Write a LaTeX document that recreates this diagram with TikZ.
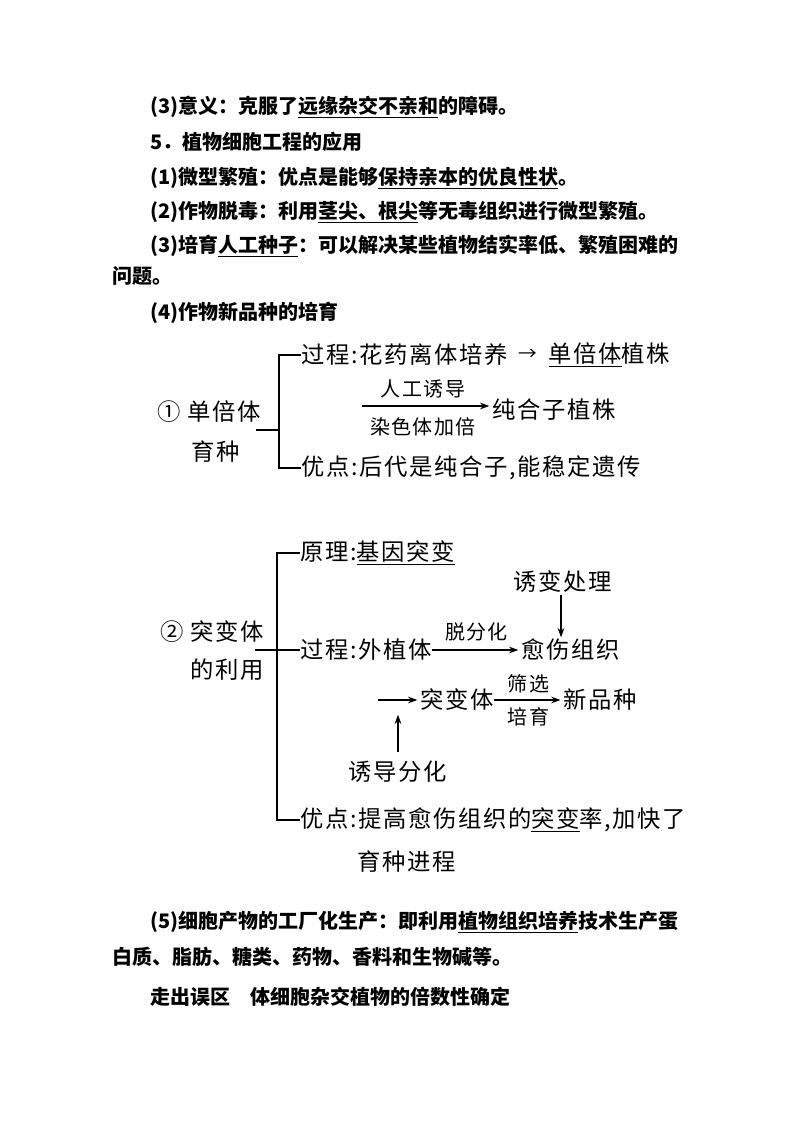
\documentclass[tikz,border=0pt]{standalone}
\usepackage{fontspec}
\setmainfont{Noto Sans CJK SC}
\newfontfamily\dgfont[LetterSpace=7]{Noto Sans CJK SC}
\usetikzlibrary{arrows.meta,positioning}
\begin{document}
\begin{tikzpicture}[x=0.75pt,y=-0.75pt,
  para/.style={anchor=west,inner sep=0pt,font=\fontsize{15}{18}\selectfont\bfseries},
  dg/.style={anchor=west,inner sep=0pt,font=\dgfont\fontsize{17.5}{20}\selectfont},
  dgc/.style={inner sep=0pt,font=\dgfont\fontsize{17.5}{20}\selectfont},
  lab/.style={inner sep=0pt,font=\dgfont\fontsize{15}{18}\selectfont},
  ln/.style={line width=0.8pt},
  ar/.style={line width=0.8pt,shorten >=2pt,-{Stealth[length=7pt,width=5pt]}}]
\useasboundingbox (0,0) rectangle (794,1123);
% paragraphs
\node[para] (p1) at (150,107) {(3)意义：克服了\underline{远缘杂交不亲和}的障碍。};
\node[para] (p2) at (150,142) {5．植物细胞工程的应用};
\node[para] (p3) at (150,178) {(1)微型繁殖：优点是能够\underline{保持亲本的优良性状}。};
\node[para] (p4) at (150,212) {(2)作物脱毒：利用\underline{茎尖、根尖}等无毒组织进行微型繁殖。};
\node[para] (p5) at (150,246) {(3)培育\underline{人工种子}：可以解决某些植物结实率低、繁殖困难的};
\node[para] (p6) at (112,276) {问题。};
\node[para] (p7) at (150,313) {(4)作物新品种的培育};
% diagram 1
\node[dg] (a0) at (157,412) {① 单倍体};
\node[dg] (a0b) at (191,452) {育种};
\coordinate (ab) at (256,430);
\coordinate (aj) at (279,430);
\node[dg] (a1) at (301,355) {过程:花药离体培养};
\node[dgc,anchor=west] (a1arr) at ([xshift=8pt]a1.east) {\fontsize{14}{14}\selectfont →};
\node[dg] (a1b) at ([xshift=8pt]a1arr.east) {\underline{单倍体}植株};
\coordinate (a2s) at (362,406);
\node[dg] (a2e) at (492,410) {纯合子植株};
\node[lab] (a2u) at (423,389) {人工诱导};
\node[lab] (a2d) at (423,427) {染色体加倍};
\node[dg] (a3) at (301,468) {优点:后代是纯合子,能稳定遗传};
\draw[ln] (ab) -- (aj);
\draw[ln] (a1.west) -| (aj) |- (a3.west);
\draw[ar] (a2s) -- (a2s -| a2e.west);
% diagram 2
\node[dg] (b0) at (160,632) {② 突变体};
\node[dg] (b0b) at (190,670) {的利用};
\coordinate (bb) at (255,650);
\coordinate (bj) at (277,650);
\node[dg] (b1) at (300,553) {原理:\underline{基因突变}};
\node[dg] (b2) at (300,650) {过程:外植体};
\node[dg] (b2e) at (521,650) {愈伤组织};
\node[dgc] (bt) at (563,582) {诱变处理};
\coordinate (b3s) at (378,700);
\node[dg] (b3a) at (420,700) {突变体};
\node[dg] (b3b) at ([xshift=52pt]b3a.east) {新品种};
\node[dgc] (bi) at (398,772) {诱导分化};
\coordinate (bt2) at (561,595);
\coordinate (bi2) at (398,752);
\node[dg] (b4) at (300,820) {优点:提高愈伤组织的\underline{突变}率,加快了};
\node[dg] (b4b) at (357,862) {育种进程};
\draw[ln] (bb) -- (b2.west);
\draw[ln] (b1.west) -| (bj) |- (b4.west);
\draw[ar] (b2.east) -- node[lab,above=6pt] (b2l) {脱分化} (b2e.west);
\draw[ar] (bt2) -- (561,640);
\draw[ar] (b3s) -- (b3a.west);
\draw[ar] (b3a.east) -- node[lab,above=5pt] (b3u) {筛选} node[lab,below=5pt] (b3d) {培育} (b3b.west);
\draw[ar] (bi2) -- (398,712);
% bottom
\node[para] (q1) at (150,922) {(5)细胞产物的工厂化生产：即利用\underline{植物组织培养}技术生产蛋};
\node[para] (q2) at (112,957) {白质、脂肪、糖类、药物、香料和生物碱等。};
\node[para] (q3) at (150,997) {走出误区\quad 体细胞杂交植物的倍数性确定};
\end{tikzpicture}
\end{document}
